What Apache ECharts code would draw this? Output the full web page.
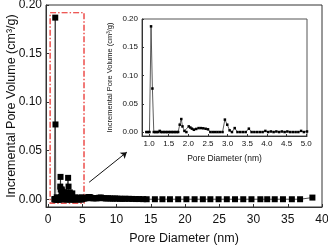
<!DOCTYPE html>
<html>
<head>
<meta charset="utf-8">
<script src="https://cdn.jsdelivr.net/npm/echarts@6/dist/echarts.min.js"></script>
<style>
  html, body { margin: 0; padding: 0; background: #fff; }
  #chart { width: 328px; height: 245px; }
</style>
</head>
<body>
<div id="chart"></div>
<script>
// pore diameter (nm) and incremental pore volume (cm3/g)
const poreDiameter = [
  0.93, 0.97, 1.01, 1.05, 1.085, 1.12, 1.16, 1.19, 1.23, 1.27, 1.30, 1.34, 1.38, 1.42,
  1.46, 1.50, 1.54, 1.58, 1.62, 1.66, 1.70, 1.74, 1.78, 1.82, 1.85, 1.90, 1.95, 2.01,
  2.05, 2.09, 2.14, 2.20, 2.26, 2.32, 2.38, 2.44, 2.50, 2.56, 2.62, 2.68, 2.74, 2.80,
  2.87, 2.93, 2.99, 3.05, 3.11, 3.18, 3.25, 3.32, 3.39, 3.46, 3.54, 3.61, 3.68, 3.75,
  3.82, 3.89, 3.96, 4.03, 4.10, 4.17, 4.24, 4.31, 4.38, 4.45, 4.52, 4.59, 4.66, 4.73,
  4.80, 4.87, 4.94,
  5.02, 5.12, 5.22, 5.33, 5.45, 5.57, 5.70, 5.84, 5.98, 6.13, 6.29, 6.46, 6.64, 6.83,
  7.03, 7.24, 7.46, 7.70, 7.95, 8.21, 8.49, 8.78, 9.09, 9.41, 9.75, 10.1, 10.5, 10.9,
  11.3, 11.8, 12.3, 12.8, 13.3, 13.9,
  14.4, 15.6, 16.7, 17.8, 19.0, 20.2, 21.4, 22.6, 23.7, 24.9, 26.1, 27.3, 28.5, 29.7,
  31.0, 32.0, 33.1, 34.3, 35.6, 36.8, 38.6
]
const poreVolume = [
  0, 0, 0, 0.187, 0.077, 0, 0, 0, 0, 0.002, 0, 0, 0, 0,
  0, 0, 0, 0, 0, 0, 0, 0, 0.013, 0.023, 0.010, 0.002, 0, 0.010,
  0.008, 0.006, 0.004, 0.0055, 0.007, 0.007, 0.0066, 0.0058, 0.0048, 0, 0, 0, 0, 0,
  0, 0.022, 0.013, 0.003, 0, 0.007, 0, 0, 0, 0, 0.006, 0, 0, 0,
  0, 0, 0.002, 0, 0.001, 0, 0.001, 0, 0.001, 0, 0.001, 0, 0, 0,
  0, 0.002, 0,
  0.001, 0.001, 0.0008, 0.001, 0.0012, 0.001, 0.0015, 0.002, 0.0022, 0.002, 0.0015, 0.001, 0.001, 0.0012,
  0.001, 0.001, 0.0015, 0.0018, 0.0012, 0.001, 0.0008, 0.001, 0.0008, 0.0006, 0.0008, 0.0006, 0.0005, 0.0004,
  0.0005, 0.0004, 0.0003, 0.0002, 0.0002, 0.0001,
  0, 0, 0, 0, 0, 0, 0, 0, 0, 0, 0, 0, 0, 0,
  0, 0, 0, 0, 0, 0, 0.0017
]
const mainXTicks = [0, 5, 10, 15, 20, 25, 30, 35, 40]
const mainYTicks = [0, 0.05, 0.1, 0.15, 0.2]
const insetXTicks = [1.0, 1.5, 2.0, 2.5, 3.0, 3.5, 4.0, 4.5, 5.0]
const insetYTicks = [0, 0.05, 0.1, 0.15, 0.2]

const points = poreDiameter.map((d, i) => [d, poreVolume[i]])
const font = 'Liberation Sans, Arial, sans-serif'

const chart = echarts.init(document.getElementById('chart'), null, { renderer: 'canvas' })

const axisLine = { show: true, onZero: false, lineStyle: { color: '#333', width: 1 } }

const option = {
  animation: false,
  backgroundColor: '#fff',
  grid: [
    {
      left: 46, right: 6, top: 5, bottom: 38, outerBoundsMode: 'none', containLabel: false,
      show: true, borderColor: '#333', borderWidth: 1
    },
    {
      left: 142, right: 21, top: 19, bottom: 109, outerBoundsMode: 'none', containLabel: false,
      show: true, borderColor: '#555', borderWidth: 1, backgroundColor: '#fff', z: 5
    }
  ],
  xAxis: [
    {
      type: 'value', gridIndex: 0, min: -0.3, max: 40,
      axisLine, splitLine: { show: false },
      axisTick: { inside: true, length: 3, customValues: mainXTicks, lineStyle: { color: '#333' } },
      axisLabel: { color: '#111', fontSize: 12, fontFamily: font, margin: 7, customValues: mainXTicks },
      name: 'Pore Diameter (nm)', nameLocation: 'middle', nameGap: 25, nameMoveOverlap: false,
      nameTextStyle: { fontSize: 12.5, fontFamily: font, color: '#111' }
    },
    {
      type: 'value', gridIndex: 1, min: 0.82, max: 5.02,
      axisLine, splitLine: { show: false },
      axisTick: { inside: true, length: 2, customValues: insetXTicks, lineStyle: { color: '#333' } },
      axisLabel: {
        color: '#111', fontSize: 8, fontFamily: font, margin: 4, customValues: insetXTicks,
        formatter: v => v.toFixed(1)
      },
      name: 'Pore Diameter (nm)', nameLocation: 'middle', nameGap: 18, nameMoveOverlap: false,
      nameTextStyle: { fontSize: 8.5, fontFamily: font, color: '#111' },
      z: 6
    }
  ],
  yAxis: [
    {
      type: 'value', gridIndex: 0, min: -0.008, max: 0.2,
      axisLine, splitLine: { show: false },
      axisTick: { inside: true, length: 3, customValues: mainYTicks, lineStyle: { color: '#333' } },
      axisLabel: {
        color: '#111', fontSize: 12, fontFamily: font, margin: 4, customValues: mainYTicks,
        formatter: v => v.toFixed(2)
      },
      name: 'Incremental Pore Volume (cm³/g)', nameLocation: 'middle', nameGap: 28, nameMoveOverlap: false,
      nameTextStyle: { fontSize: 12.5, fontFamily: font, color: '#111' }
    },
    {
      type: 'value', gridIndex: 1, min: -0.007, max: 0.2,
      axisLine, splitLine: { show: false },
      axisTick: { inside: true, length: 2, customValues: insetYTicks, lineStyle: { color: '#333' } },
      axisLabel: {
        color: '#111', fontSize: 8, fontFamily: font, margin: 4, customValues: insetYTicks,
        formatter: v => v.toFixed(2)
      },
      name: 'Incremental Pore Volume (cm³/g)', nameLocation: 'middle', nameGap: 28, nameMoveOverlap: false,
      nameTextStyle: { fontSize: 7.5, fontFamily: font, color: '#111' },
      z: 6
    }
  ],
  series: [
    {
      type: 'line', xAxisIndex: 0, yAxisIndex: 0, data: points,
      symbol: 'rect', symbolSize: 6,
      lineStyle: { color: '#222', width: 0.8 },
      itemStyle: { color: '#000' },
      markArea: {
        silent: true,
        itemStyle: {
          color: 'rgba(0,0,0,0)', borderColor: '#e8231f', borderWidth: 1.2,
          borderType: [6, 2, 1.5, 2]
        },
        data: [[{ coord: [0.3, 0.192] }, { coord: [5.25, -0.004] }]]
      },
      markLine: {
        silent: true, symbol: ['none', 'arrow'], symbolSize: 6,
        label: { show: false },
        lineStyle: { color: '#111', width: 1, type: 'solid' },
        data: [[{ coord: [6.0, 0.0175] }, { coord: [11.5, 0.0485] }]]
      }
    },
    {
      type: 'line', xAxisIndex: 1, yAxisIndex: 1, data: points, clip: true,
      symbol: 'rect', symbolSize: 2.5,
      lineStyle: { color: '#333', width: 0.8 },
      itemStyle: { color: '#000' },
      z: 7
    }
  ]
}

chart.setOption(option)
</script>
</body>
</html>
